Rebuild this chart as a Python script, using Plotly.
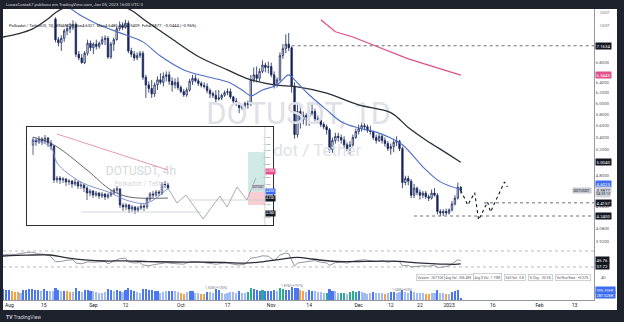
import math
import pandas as pd
import plotly.graph_objects as go

# ---------------- DATA ----------------
candle_start = "2022-08-19"
open_ = [7.78, 7.30, 7.23, 7.33, 7.50, 7.55, 7.58, 7.65, 6.98, 6.90, 6.80, 7.00, 7.22,
         7.12, 7.20, 7.15, 7.22, 7.30, 7.33, 6.92, 7.20, 7.30, 7.55, 7.62, 7.58, 7.68, 7.05, 6.98, 6.90, 6.95, 7.00, 6.50, 6.35, 6.28, 6.18, 6.35, 6.45, 6.40, 6.52, 6.55, 6.42, 6.35, 6.40,
         6.30, 6.22, 6.16, 6.25, 6.42, 6.48, 6.43, 6.38, 6.34, 6.32, 6.24, 6.18, 6.15, 6.08, 6.10, 6.15, 6.20, 6.22, 6.12, 6.04, 5.98, 5.92, 5.95, 6.00, 5.98, 6.45, 6.55, 6.48, 6.62, 6.75, 6.70,
         6.72, 6.55, 6.35, 6.45, 6.95, 7.10, 7.20, 7.12, 6.33, 5.45, 5.85, 5.70, 5.78, 5.75, 5.82, 5.85, 5.72, 5.70, 5.62, 5.58, 5.53, 5.20, 5.35, 5.42, 5.40, 5.36, 5.28, 5.22, 5.28, 5.40,
         5.50, 5.55, 5.60, 5.58, 5.52, 5.50, 5.40, 5.35, 5.42, 5.35, 5.30, 5.22, 5.25, 5.32, 5.34, 5.22, 4.70, 4.76, 4.72, 4.52, 4.62, 4.56, 4.52, 4.55, 4.50, 4.48, 4.55, 4.52, 4.30, 4.28, 4.30,
         4.28, 4.32, 4.40, 4.48, 4.6321]
high_ = [7.82, 7.36, 7.40, 7.55, 7.65, 7.68, 7.75, 7.70, 7.05, 6.98, 7.05, 7.30, 7.28,
         7.24, 7.30, 7.26, 7.38, 7.40, 7.38, 7.25, 7.35, 7.60, 7.72, 7.70, 7.76, 7.74, 7.12, 7.05, 7.02, 7.05, 7.05, 6.55, 6.42, 6.45, 6.40, 6.52, 6.58, 6.60, 6.62, 6.62, 6.50, 6.48, 6.50,
         6.34, 6.27, 6.30, 6.47, 6.55, 6.55, 6.48, 6.42, 6.40, 6.38, 6.28, 6.22, 6.25, 6.25, 6.18, 6.24, 6.28, 6.28, 6.14, 6.10, 6.02, 5.98, 6.03, 6.05, 6.55, 6.70, 6.72, 6.68, 6.85, 6.80, 6.82,
         6.80, 6.62, 6.50, 7.02, 7.20, 7.42, 7.45, 7.15, 6.40, 6.02, 5.95, 5.85, 5.82, 5.90, 5.98, 5.90, 5.78, 5.74, 5.66, 5.62, 5.56, 5.40, 5.48, 5.48, 5.45, 5.42, 5.32, 5.34, 5.45, 5.55,
         5.62, 5.66, 5.65, 5.62, 5.60, 5.52, 5.45, 5.46, 5.45, 5.40, 5.34, 5.30, 5.38, 5.42, 5.36, 5.25, 4.80, 4.80, 4.75, 4.68, 4.64, 4.60, 4.58, 4.58, 4.53, 4.60, 4.62, 4.55, 4.33, 4.33, 4.34,
         4.34, 4.44, 4.52, 4.70, 4.6485]
low_ = [7.24, 7.15, 7.05, 7.25, 7.40, 7.45, 7.52, 6.92, 6.85, 6.78, 6.77, 6.95, 7.05,
        6.98, 7.08, 7.10, 7.18, 7.18, 6.88, 6.88, 7.05, 7.28, 7.50, 7.52, 7.55, 7.00, 6.92, 6.84, 6.85, 6.90, 6.45, 6.10, 6.20, 6.10, 6.12, 6.25, 6.36, 6.32, 6.42, 6.35, 6.22, 6.28, 6.25,
        6.19, 6.12, 6.12, 6.22, 6.35, 6.40, 6.33, 6.30, 6.28, 6.19, 6.10, 6.10, 5.98, 6.05, 6.06, 6.12, 6.15, 6.08, 6.00, 5.95, 5.82, 5.88, 5.90, 5.90, 5.95, 6.40, 6.40, 6.42, 6.58, 6.60, 6.58,
        6.50, 6.28, 6.30, 6.42, 6.88, 7.00, 7.05, 6.20, 5.38, 5.40, 5.55, 5.62, 5.60, 5.60, 5.78, 5.68, 5.64, 5.58, 5.54, 5.45, 5.15, 5.15, 5.30, 5.33, 5.30, 5.22, 5.18, 5.13, 5.25, 5.38,
        5.45, 5.50, 5.52, 5.48, 5.45, 5.36, 5.30, 5.32, 5.30, 5.25, 5.18, 5.12, 5.16, 5.26, 5.18, 4.62, 4.66, 4.66, 4.48, 4.48, 4.52, 4.46, 4.48, 4.47, 4.44, 4.46, 4.50, 4.26, 4.24, 4.24, 4.25,
        4.26, 4.30, 4.38, 4.46, 4.5409]
close_ = [7.30, 7.23, 7.33, 7.50, 7.55, 7.58, 7.65, 6.98, 6.90, 6.80, 7.00, 7.22, 7.12,
          7.20, 7.15, 7.22, 7.30, 7.33, 6.92, 7.20, 7.30, 7.55, 7.62, 7.58, 7.68, 7.05, 6.98, 6.90, 6.95, 7.00, 6.50, 6.35, 6.28, 6.18, 6.35, 6.45, 6.40, 6.52, 6.55, 6.42, 6.35, 6.40, 6.30,
          6.22, 6.16, 6.25, 6.42, 6.48, 6.43, 6.38, 6.34, 6.32, 6.24, 6.18, 6.15, 6.08, 6.10, 6.15, 6.20, 6.22, 6.12, 6.04, 5.98, 5.92, 5.95, 6.00, 5.98, 6.45, 6.55, 6.48, 6.62, 6.75, 6.70, 6.72,
          6.55, 6.35, 6.45, 6.95, 7.10, 7.20, 7.12, 6.33, 5.45, 5.85, 5.70, 5.78, 5.75, 5.82, 5.85, 5.72, 5.70, 5.62, 5.58, 5.53, 5.20, 5.35, 5.42, 5.40, 5.36, 5.28, 5.22, 5.28, 5.40, 5.50,
          5.55, 5.60, 5.58, 5.52, 5.50, 5.40, 5.35, 5.42, 5.35, 5.30, 5.22, 5.25, 5.32, 5.34, 5.22, 4.70, 4.76, 4.72, 4.52, 4.62, 4.56, 4.52, 4.55, 4.50, 4.48, 4.55, 4.52, 4.30, 4.28, 4.30, 4.28,
          4.32, 4.40, 4.48, 4.63, 4.5877]

vol_start = "2022-08-01"
volume_m = [1.55, 1.45, 1.40, 1.20, 1.15, 1.10, 1.05, 1.35, 1.45, 1.50,
            1.55, 1.40, 1.35, 1.20, 1.50, 1.30, 1.25, 1.20, 1.75, 1.45,
            1.20, 1.30, 1.25, 1.10, 1.15, 1.65, 1.30, 1.15, 1.35, 1.40,
            1.25, 1.20, 1.10, 1.00, 1.05, 1.15, 1.60, 1.35, 1.25, 1.45,
            1.30, 1.15, 1.35, 1.70, 1.40, 1.30, 1.10, 1.05, 1.55, 1.60,
            1.35, 1.40, 1.30, 1.25, 1.05, 1.10, 1.20, 1.25, 1.30, 1.20,
            1.15, 0.95, 0.90, 1.10, 1.25, 1.20, 1.05, 1.00, 0.90, 0.85,
            1.15, 1.10, 1.05, 1.56, 1.35, 0.95, 0.90, 1.05, 1.10, 1.10,
            1.05, 1.20, 0.95, 1.00, 1.10, 1.65, 1.50, 1.40, 1.30, 1.40,
            1.20, 1.25, 1.30, 1.35, 1.20, 1.65, 1.60, 1.40, 1.40, 1.87,
            1.75, 1.65, 1.45, 1.20, 1.10, 1.35, 1.30, 1.20, 1.15, 1.10,
            1.00, 1.05, 1.55, 1.30, 1.20, 1.05, 1.00, 0.95, 0.90, 1.10,
            1.25, 1.15, 1.20, 1.10, 0.95, 0.90, 1.05, 1.10, 1.05, 1.00,
            1.05, 0.90, 0.95, 1.10, 1.15, 1.05, 1.10, 1.45, 1.10, 1.00,
            1.20, 1.10, 1.00, 1.05, 0.95, 0.85, 0.85, 0.95, 1.00, 1.35,
            1.05, 1.00, 0.85, 0.90, 1.15, 1.20, 1.35, 0.31]
vol_class = ("bbbooolbbb" "bbblbbllbb" "lboolbblbb" "blllllbblb" "blbbbbllbb"
             "bbbblllbbl" "loolbblloo" "bllbblllll" "lbllggbbbg" "bbbblggbbb"
             "bboolbblll" "lgbbllgglg" "ggbllllbll" "lolbbllbll" "blllloollb"
             "llolbbbb")

rsi_dates = ["2022-08-01", "2022-08-03", "2022-08-05", "2022-08-07", "2022-08-09", "2022-08-11", "2022-08-13",
             "2022-08-15", "2022-08-17", "2022-08-19", "2022-08-21", "2022-08-23", "2022-08-25", "2022-08-26",
             "2022-08-28", "2022-08-30", "2022-09-01", "2022-09-03", "2022-09-05", "2022-09-06", "2022-09-08",
             "2022-09-10", "2022-09-12", "2022-09-13", "2022-09-15", "2022-09-17", "2022-09-18", "2022-09-20",
             "2022-09-22", "2022-09-24", "2022-09-26", "2022-09-28", "2022-09-30", "2022-10-02", "2022-10-04",
             "2022-10-06", "2022-10-08", "2022-10-10", "2022-10-12", "2022-10-13", "2022-10-15", "2022-10-17",
             "2022-10-19", "2022-10-21", "2022-10-23", "2022-10-25", "2022-10-27", "2022-10-29", "2022-10-31",
             "2022-11-02", "2022-11-04", "2022-11-06", "2022-11-07", "2022-11-08", "2022-11-09", "2022-11-10",
             "2022-11-12", "2022-11-14", "2022-11-16", "2022-11-18", "2022-11-20", "2022-11-21", "2022-11-23",
             "2022-11-25", "2022-11-27", "2022-11-29", "2022-12-01", "2022-12-03", "2022-12-05", "2022-12-07",
             "2022-12-09", "2022-12-11", "2022-12-13", "2022-12-15", "2022-12-16", "2022-12-18", "2022-12-19",
             "2022-12-21", "2022-12-23", "2022-12-25", "2022-12-27", "2022-12-28", "2022-12-30", "2023-01-01",
             "2023-01-02", "2023-01-03", "2023-01-04", "2023-01-05"]
rsi_vals = [60, 62, 61, 64, 66, 67, 63, 62, 59, 43, 44, 47, 48, 40, 38, 43, 42, 43, 44, 38, 45, 51, 52, 43,
            40, 41, 35, 33, 36, 39, 41, 39, 38, 37, 43, 44, 42, 40, 39, 37, 39, 40, 37, 35, 37, 52, 54, 58,
            57, 46, 60, 65, 63, 45, 32, 40, 42, 44, 46, 42, 40, 34, 41, 42, 40, 44, 47, 48, 46, 44, 45, 42,
            45, 43, 33, 34, 30, 32, 33, 32, 34, 29, 30, 33, 38, 42, 48, 45.76]
rsi_ma_dates = ["2022-08-01", "2022-08-09", "2022-08-17", "2022-08-23", "2022-08-29", "2022-09-05", "2022-09-12",
                "2022-09-20", "2022-09-28", "2022-10-08", "2022-10-16", "2022-10-23", "2022-10-29", "2022-11-04",
                "2022-11-10", "2022-11-15", "2022-11-21", "2022-11-26", "2022-12-03", "2022-12-09", "2022-12-15",
                "2022-12-20", "2022-12-26", "2022-12-31", "2023-01-03", "2023-01-05"]
rsi_ma_vals = [57.5, 59.5, 60, 53, 48, 45, 45.5, 43.5, 42.5, 42, 41.5, 39.5, 43, 49, 54, 50, 45, 43.5, 44,
               44.5, 44, 41, 38.5, 37, 36.8, 37.72]

ma_black_dates = ["2022-08-01", "2022-08-06", "2022-08-11", "2022-08-16", "2022-08-19", "2022-08-23", "2022-09-05",
                  "2022-09-13", "2022-09-19", "2022-09-27", "2022-10-07", "2022-10-17", "2022-10-24", "2022-11-02",
                  "2022-11-10", "2022-11-20", "2022-12-01", "2022-12-12", "2022-12-18", "2022-12-24", "2022-12-31",
                  "2023-01-05"]
ma_black_vals = [7.36, 7.43, 7.54, 7.76, 7.93, 8.08, 8.15, 8.03, 7.73, 7.36, 6.93, 6.65, 6.47, 6.35, 6.31,
                 6.19, 5.97, 5.83, 5.57, 5.36, 5.15, 5.0040]
ma_blue_dates = ["2022-08-23", "2022-08-28", "2022-09-03", "2022-09-12", "2022-09-18", "2022-09-24", "2022-10-02",
                 "2022-10-10", "2022-10-17", "2022-10-22", "2022-10-25", "2022-10-29", "2022-11-03", "2022-11-07",
                 "2022-11-09", "2022-11-14", "2022-11-20", "2022-11-25", "2022-12-01", "2022-12-07", "2022-12-12",
                 "2022-12-16", "2022-12-24", "2022-12-29", "2023-01-05"]
ma_blue_vals = [8.10, 7.85, 7.64, 7.41, 7.25, 6.94, 6.65, 6.51, 6.41, 6.25, 6.14, 6.25, 6.35, 6.55, 6.45,
                6.16, 5.88, 5.67, 5.56, 5.49, 5.39, 5.28, 4.89, 4.71, 4.6023]
ma_red_dates = ["2022-11-18", "2022-11-23", "2022-11-29", "2022-12-04", "2022-12-18", "2023-01-05"]
ma_red_vals = [7.76, 7.48, 7.36, 7.23, 6.88, 6.5443]

proj_dates = ["2023-01-05 00:00", "2023-01-07 10:00", "2023-01-09 19:00", "2023-01-11 03:00",
              "2023-01-14 05:00", "2023-01-15 05:00", "2023-01-20 00:00", "2023-01-21 00:00"]
proj_prices = [4.5877, 4.386, 4.556, 4.189, 4.427, 4.293, 4.709, 4.637]

level_vals = [7.1634, 4.4157, 4.2400]
level_starts = ["2022-11-08", "2023-01-13", "2022-12-20"]

tag_vals = [7.1634, 6.5443, 5.0040, 4.6023, 4.4157, 4.2400]
last_price = 4.5877
price_tickvals = [6.8, 6.4, 6.2, 6.0, 5.8, 5.6, 5.4, 5.2, 4.8, 4.36, 4.08, 3.92]

first_month_label = "Aug"
date_ticks = ["2022-08-15", "2022-09-01", "2022-09-12", "2022-10-01", "2022-10-17", "2022-11-01",
              "2022-11-14", "2022-12-01", "2022-12-12", "2022-12-22", "2023-01-01", "2023-01-16", "2023-02-01",
              "2023-02-13"]
date_labels = ["15", "Sep", "12", "Oct", "17", "Nov", "14", "Dec", "12", "22", "2023", "16", "Feb", "13"]

osc_levels = [70, 30]
osc_tags = [45.76, 37.72]
vol_tags = ["306.556K", "287.526K"]
vol_notes = ["1.56M (+130%)", "1.87M (+197%)", "1.04M (+53%)"]
vol_note_dates = ["2022-10-13", "2022-11-08", "2022-12-16"]
info_cells = ["Volume : 207.92K", "Avg Vol : 306.49K", "Avg $ Vol : 1.19M", "Sd3 Vol : 0.8",
              "% Chg : -33.3%", "Vol Run Rate : +0.32%"]

# inset (4h chart snapshot)
inset_open = [4.692, 4.722, 4.710, 4.728, 4.716, 4.734, 4.704, 4.686, 4.482, 4.494, 4.482, 4.488, 4.470, 4.476,
              4.458, 4.470, 4.446, 4.452, 4.434, 4.404, 4.416, 4.392, 4.404, 4.386, 4.398, 4.380, 4.392, 4.404,
              4.422, 4.428, 4.332, 4.320, 4.332, 4.308, 4.320, 4.302, 4.314, 4.326, 4.320, 4.368, 4.398, 4.392,
              4.410, 4.404, 4.458, 4.452]
inset_high = [4.740, 4.734, 4.746, 4.740, 4.752, 4.740, 4.722, 4.692, 4.506, 4.506, 4.500, 4.494, 4.488, 4.482,
              4.488, 4.476, 4.470, 4.458, 4.446, 4.428, 4.422, 4.416, 4.410, 4.410, 4.404, 4.404, 4.422, 4.434,
              4.446, 4.434, 4.344, 4.344, 4.338, 4.332, 4.326, 4.326, 4.344, 4.338, 4.380, 4.410, 4.416, 4.422,
              4.422, 4.470, 4.476, 4.464]
inset_low = [4.632, 4.686, 4.698, 4.692, 4.704, 4.680, 4.662, 4.464, 4.464, 4.458, 4.464, 4.446, 4.452, 4.434,
             4.446, 4.428, 4.428, 4.410, 4.362, 4.386, 4.374, 4.380, 4.368, 4.374, 4.362, 4.368, 4.380, 4.392,
             4.404, 4.314, 4.296, 4.302, 4.284, 4.290, 4.278, 4.290, 4.302, 4.296, 4.308, 4.356, 4.374, 4.380,
             4.386, 4.392, 4.434, 4.422]
inset_close = [4.722, 4.710, 4.728, 4.716, 4.734, 4.704, 4.686, 4.482, 4.494, 4.482, 4.488, 4.470, 4.476, 4.458,
               4.470, 4.446, 4.452, 4.434, 4.404, 4.416, 4.392, 4.404, 4.386, 4.398, 4.380, 4.392, 4.404, 4.422,
               4.428, 4.332, 4.320, 4.332, 4.308, 4.320, 4.302, 4.314, 4.326, 4.320, 4.368, 4.398, 4.392, 4.410,
               4.404, 4.458, 4.452, 4.434]
inset_red_x = [8, 20, 32, 45]
inset_red = [4.758, 4.688, 4.620, 4.542]
inset_black_x = [0, 7, 18, 26, 32, 45]
inset_black = [4.740, 4.692, 4.542, 4.422, 4.380, 4.374]
inset_blue_x = [0, 6, 8, 16, 26, 31, 38, 45]
inset_blue = [4.722, 4.680, 4.584, 4.470, 4.404, 4.362, 4.344, 4.434]
inset_path_x = [45, 48, 51, 56.7, 62.3, 64.7, 68, 71.3, 74.3]
inset_path = [4.434, 4.344, 4.392, 4.248, 4.386, 4.320, 4.440, 4.362, 4.494]
inset_hlines = [4.362, 4.290]
inset_hline_x = [[52, 77.3], [16, 56]]
inset_trade_x = [71.7, 77.3]
inset_entry, inset_target, inset_stop = 4.410, 4.650, 4.332
inset_tickvals = [4.26, 4.34, 4.46, 4.50, 4.58, 4.62, 4.66, 4.70, 4.74]
inset_tag_vals = [4.536, 4.416, 4.374, 4.284]

# ---------------- LAYOUT HELPERS ----------------
W, H = 624, 322
ML, MR, MT, MB = 3, 30, 9, 22
PW, PH = W - ML - MR, H - MT - MB


def px(x):
    return (x - ML) / PW


def py(y):
    return (H - MB - y) / PH


FONT = "Roboto"
NAVY = "#17245a"
AXC = "#9598a1"
TXT = "#131722"

cdates = pd.date_range(candle_start, periods=len(close_), freq="D")
vdates = pd.date_range(vol_start, periods=len(volume_m), freq="D")
x_end = "2023-02-19 17:00"

fig = go.Figure()

# main watermark (under everything else of the main pane); its left part is hidden by the inset
fig.add_trace(go.Scatter(x=["2022-12-12 03:00"], y=[5.77], mode="text", text=["DOTUSDT, 1D"],
                         textposition="middle left", textfont=dict(family=FONT, size=31, color="#dfe1e6"),
                         hoverinfo="skip", xaxis="x", yaxis="y"))
fig.add_trace(go.Scatter(x=["2022-12-01 21:00"], y=[5.17], mode="text", text=["dot / Tether"],
                         textposition="middle left", textfont=dict(family=FONT, size=17, color="#dfe1e6"),
                         hoverinfo="skip", xaxis="x", yaxis="y"))

# MAs
fig.add_trace(go.Scatter(x=ma_red_dates, y=ma_red_vals, mode="lines", line=dict(color="#e2508a", width=1.3),
                         xaxis="x", yaxis="y", hoverinfo="skip"))
fig.add_trace(go.Scatter(x=ma_black_dates, y=ma_black_vals, mode="lines", line=dict(color="#2a2e39", width=1.3, shape="spline"),
                         xaxis="x", yaxis="y", hoverinfo="skip"))
fig.add_trace(go.Scatter(x=ma_blue_dates, y=ma_blue_vals, mode="lines", line=dict(color="#4e6fc9", width=1.1, shape="spline"),
                         xaxis="x", yaxis="y", hoverinfo="skip"))

# horizontal levels
for v, s in zip(level_vals, level_starts):
    fig.add_trace(go.Scatter(x=[s, x_end], y=[v, v], mode="lines", line=dict(color="#6a6d78", width=1, dash="dot"),
                             xaxis="x", yaxis="y", hoverinfo="skip"))

# candles
fig.add_trace(go.Candlestick(x=cdates, open=open_, high=high_, low=low_, close=close_,
                             increasing=dict(line=dict(color=NAVY, width=0.8), fillcolor="#ffffff"),
                             decreasing=dict(line=dict(color=NAVY, width=0.8), fillcolor=NAVY),
                             whiskerwidth=0, xaxis="x", yaxis="y", hoverinfo="skip"))

# projection
fig.add_trace(go.Scatter(x=proj_dates, y=proj_prices, mode="lines", line=dict(color="#131722", width=1.1, dash="dot"),
                         xaxis="x", yaxis="y", hoverinfo="skip"))

# oscillator
fig.add_trace(go.Scatter(x=rsi_dates, y=rsi_vals, mode="lines", line=dict(color="#787b86", width=0.8),
                         xaxis="x", yaxis="y2", hoverinfo="skip"))
fig.add_trace(go.Scatter(x=rsi_ma_dates, y=rsi_ma_vals, mode="lines", line=dict(color="#2a2e39", width=1.3, shape="spline"),
                         xaxis="x", yaxis="y2", hoverinfo="skip"))

# volume
cmap = {"b": "#4b78ef", "l": "#a3bbf4", "o": "#f4a246", "g": "#27ae8f"}
vc = vol_class.ljust(len(volume_m), "b")[:len(volume_m)]
fig.add_trace(go.Bar(x=vdates, y=volume_m, marker=dict(color=[cmap[c] for c in vc], line=dict(width=0)),
                     width=0.72 * 86400000, xaxis="x", yaxis="y3", hoverinfo="skip"))

# ---------------- INSET ----------------
ix0, ix1 = -2, 80
iy0, iy1 = 4.212, 4.80
# white panel as a bar so that it sits under the inset candles but over the main pane
fig.add_trace(go.Bar(x=[(ix0 + ix1) / 2], y=[iy1 - iy0], base=[iy0], width=[ix1 - ix0],
                     marker=dict(color="#ffffff", line=dict(width=0)), xaxis="x2", yaxis="y4", hoverinfo="skip"))
fig.add_trace(go.Scatter(x=[36], y=[4.53], mode="text", text=["DOTUSDT, 4h"],
                         textfont=dict(family=FONT, size=12, color="#d5d7dc"), xaxis="x2", yaxis="y4", hoverinfo="skip"))
fig.add_trace(go.Scatter(x=[36], y=[4.458], mode="text", text=["Polkadot / Tether"],
                         textfont=dict(family=FONT, size=7, color="#d5d7dc"), xaxis="x2", yaxis="y4", hoverinfo="skip"))
tx0, tx1 = inset_trade_x
fig.add_trace(go.Scatter(x=[tx0, tx1, tx1, tx0, tx0], y=[inset_entry, inset_entry, inset_target, inset_target, inset_entry],
                         mode="lines", fill="toself", fillcolor="#cfeae4", line=dict(width=0), xaxis="x2", yaxis="y4", hoverinfo="skip"))
fig.add_trace(go.Scatter(x=[tx0, tx1, tx1, tx0, tx0], y=[inset_stop, inset_stop, inset_entry, inset_entry, inset_stop],
                         mode="lines", fill="toself", fillcolor="#f7cfd2", line=dict(width=0), xaxis="x2", yaxis="y4", hoverinfo="skip"))
for v, (a, b) in zip(inset_hlines, inset_hline_x):
    fig.add_trace(go.Scatter(x=[a, b], y=[v, v], mode="lines", line=dict(color="#c3c6ce", width=0.7),
                             xaxis="x2", yaxis="y4", hoverinfo="skip"))
fig.add_trace(go.Scatter(x=inset_red_x, y=inset_red, mode="lines", line=dict(color="#e58aa8", width=0.9),
                         xaxis="x2", yaxis="y4", hoverinfo="skip"))
fig.add_trace(go.Scatter(x=inset_black_x, y=inset_black, mode="lines", line=dict(color="#55575f", width=0.9, shape="spline"),
                         xaxis="x2", yaxis="y4", hoverinfo="skip"))
fig.add_trace(go.Scatter(x=inset_blue_x, y=inset_blue, mode="lines", line=dict(color="#7088cf", width=0.9, shape="spline"),
                         xaxis="x2", yaxis="y4", hoverinfo="skip"))
fig.add_trace(go.Candlestick(x=list(range(len(inset_close))), open=inset_open, high=inset_high, low=inset_low, close=inset_close,
                             increasing=dict(line=dict(color=NAVY, width=0.7), fillcolor="#ffffff"),
                             decreasing=dict(line=dict(color=NAVY, width=0.7), fillcolor=NAVY),
                             whiskerwidth=0, xaxis="x2", yaxis="y4", hoverinfo="skip"))
fig.add_trace(go.Scatter(x=inset_path_x, y=inset_path, mode="lines", line=dict(color="#a0a3ab", width=0.9),
                         xaxis="x2", yaxis="y4", hoverinfo="skip"))
fig.add_trace(go.Scatter(x=[77.3, 77.3], y=[iy0, iy1], mode="lines", line=dict(color="#b2b5be", width=0.6),
                         xaxis="x2", yaxis="y4", hoverinfo="skip"))

# ---------------- ANNOTATIONS ----------------
ann = []


def A(text, x, y, xref="paper", yref="paper", size=5, color=TXT, **kw):
    d = dict(text=text, x=x, y=y, xref=xref, yref=yref, showarrow=False,
             font=dict(family=FONT, size=size, color=color))
    d.update(kw)
    ann.append(d)


A("LucasCosta67 publicou em TradingView.com, Jan 05, 2023 16:00 UTC-3", px(4), py(4.5), size=4.3,
  color="#d1d4dc", xanchor="left", yanchor="middle")
A("<b>TV</b> TradingView", px(4), py(316.5), size=5, color="#d1d4dc", xanchor="left", yanchor="middle")
A("Polkadot / TetherUS, 1D, BINANCE  Abe4.6321  Máx4.6485  Mín4.5409  Fch4.5877  −0.0444 (−0.96%)",
  px(7), py(25), size=4.2, xanchor="left", yanchor="middle")
A("USDT", px(598), py(13), size=4, color="#787b86", xanchor="left", yanchor="middle")
A("USDT", px(598), py(25), size=4, color="#787b86", xanchor="left", yanchor="middle")
A(first_month_label, px(3), py(305), size=5, color=TXT, xanchor="left", yanchor="middle")

tag_bg = ["#131722", "#e2508a", "#131722", "#3d6cf0", "#131722", "#131722"]
tag_shift = [0, 0, 0, 5, 0, 0]
for v, bg, sh in zip(tag_vals, tag_bg, tag_shift):
    A(f"{v:.4f}", 1.0, math.log10(v), yref="y", size=4.3, color="#ffffff", bgcolor=bg, xanchor="left",
      yanchor="middle", xshift=1, yshift=sh, borderpad=0.6)
A(f"{last_price:.4f}", 1.0, math.log10(last_price), yref="y", size=4.3, color=TXT, bgcolor="#d1d4dc",
  xanchor="left", yanchor="middle", xshift=1, borderpad=0.6)
A("04:59:10", 1.0, math.log10(last_price), yref="y", size=3.6, color=TXT, bgcolor="#d1d4dc",
  xanchor="left", yanchor="middle", xshift=1, yshift=-4.5, borderpad=0.3)
A("DOTUSDT", 1.0, math.log10(last_price), yref="y", size=3.6, color=TXT, bgcolor="#c7cad1",
  xanchor="right", yanchor="middle", xshift=-2, borderpad=0.5)

for v, sh in zip(osc_tags, [0.5, -2]):
    A(f"{v:.2f}", 1.0, v, yref="y2", size=4.3, color="#ffffff", bgcolor="#131722", xanchor="left",
      yanchor="middle", xshift=1, yshift=sh, borderpad=0.6)
A("40", px(599), py(277), size=4, color="#50535e", xanchor="left", yanchor="middle")
for t, yy in zip(vol_tags, [290, 295.3]):
    A(t, 1.0, py(yy), size=4, color="#ffffff", bgcolor="#3d6cf0", xanchor="left", yanchor="middle",
      xshift=1, borderpad=0.5)
for t, d, yy in zip(vol_notes, vol_note_dates, [287.5, 285.5, 289.5]):
    A(t, d, py(yy), xref="x", size=3.3, color="#787b86", xanchor="center", yanchor="middle")

cell_cx = [431, 458.5, 487, 514.5, 540.5, 573]
for t, cx in zip(info_cells, cell_cx):
    A(t, px(cx), py(277), size=3.3, color="#50535e", xanchor="center", yanchor="middle",
      bordercolor="#b2b5be", borderwidth=0.6, borderpad=1, bgcolor="#ffffff")

inset_tag_bg = ["#e2508a", "#3d6cf0", "#131722", "#131722"]
for v, bg in zip(inset_tag_vals, inset_tag_bg):
    A(f"{v:.4f}", 77.4, v, xref="x2", yref="y4", size=2.6, color="#ffffff", bgcolor=bg, xanchor="left",
      yanchor="middle", borderpad=0.3)
A("DOTUSDT", 77.2, 4.44, xref="x2", yref="y4", size=2.6, color=TXT, bgcolor="#d1d4dc", xanchor="right",
  yanchor="middle", borderpad=0.3)

# ---------------- LAYOUT ----------------
shapes = [dict(type="rect", xref="paper", yref="paper", x0=px(3), x1=px(617), y0=py(310), y1=py(9),
               fillcolor="#ffffff", line=dict(width=0), layer="below")]
for lv in osc_levels:
    shapes.append(dict(type="line", xref="paper", yref="y2", x0=0, x1=1, y0=lv, y1=lv,
                       line=dict(color="#a7aab3", width=0.8, dash="dot"), layer="below"))

fig.update_layout(
    width=W, height=H, margin=dict(l=ML, r=MR, t=MT, b=MB, pad=0),
    paper_bgcolor="#1e222d", plot_bgcolor="#ffffff", showlegend=False,
    font=dict(family=FONT, size=5, color=TXT),
    shapes=shapes, annotations=ann, bargap=0, barmode="overlay",
    xaxis=dict(type="date", range=["2022-08-01 00:00", x_end], domain=[0, 1], anchor="y3",
               showgrid=False, zeroline=False, showline=True, linecolor=AXC, linewidth=0.8,
               tickmode="array", tickvals=date_ticks, ticktext=date_labels, ticks="",
               tickfont=dict(family=FONT, size=5, color=TXT), rangeslider=dict(visible=False), fixedrange=True),
    yaxis=dict(type="log", domain=[py(248), 1], range=[math.log10(3.842), math.log10(8.023)], anchor="x",
               side="right", showgrid=False, zeroline=False, showline=True, linecolor=AXC, linewidth=0.8,
               tickmode="array", tickvals=price_tickvals, ticktext=[f"{v:.4f}" for v in price_tickvals],
               ticks="", tickfont=dict(family=FONT, size=4.3, color="#50535e"), fixedrange=True),
    yaxis2=dict(domain=[py(284), py(248)], range=[-12.5, 77.5], anchor="x", side="right",
                showgrid=False, zeroline=False, showline=True, linecolor=AXC, linewidth=0.8,
                showticklabels=False, ticks="", fixedrange=True),
    yaxis3=dict(domain=[0, py(284)], range=[0, 2.25], anchor="x", side="right",
                showgrid=False, zeroline=False, showline=True, linecolor=AXC, linewidth=0.8,
                showticklabels=False, ticks="", fixedrange=True),
    xaxis2=dict(domain=[px(27), px(273)], range=[ix0, ix1], anchor="y4", showgrid=False, zeroline=False,
                showline=True, mirror=True, linecolor="#2a2e39", linewidth=1, showticklabels=False, ticks="",
                rangeslider=dict(visible=False), fixedrange=True),
    yaxis4=dict(domain=[py(225), py(127)], range=[iy0, iy1], anchor="x2", side="right", showgrid=False,
                zeroline=False, showline=True, mirror=True, linecolor="#2a2e39", linewidth=1,
                tickmode="array", tickvals=inset_tickvals, ticktext=[f"{v:.4f}" for v in inset_tickvals],
                ticklabelposition="inside", ticks="", tickfont=dict(family=FONT, size=2.4, color="#787b86"),
                fixedrange=True),
)

fig.write_html("out.html")
